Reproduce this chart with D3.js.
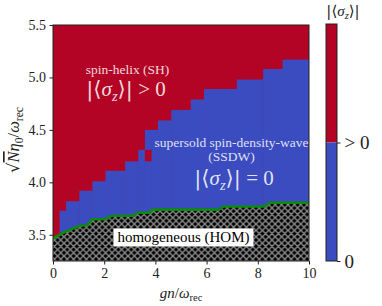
<!DOCTYPE html>
<html><head><meta charset="utf-8">
<script src="https://cdn.jsdelivr.net/npm/d3@7"></script>
</head><body style="margin:0">
<svg id="c" width="382" height="306"></svg>
<script>
// ---- data ----
const xTicks = [0, 2, 4, 6, 8, 10];
const yTicks = [3.5, 4.0, 4.5, 5.0, 5.5];
// column edges of the SH / SSDW staircase (gn/ω_rec)
const colEdges = [0, 0.26, 0.51, 1.03, 1.54, 2.05, 2.82, 3.33, 3.59, 3.85, 4.10, 4.62, 5.38, 5.90, 7.18, 8.21, 8.97, 10];
// upper edge of the SSDW (blue) region in each column
const ssdwTop = [3.25, 3.73, 3.82, 3.92, 4.01, 4.11, 4.20, 4.31, 4.50, 4.50, 4.59, 4.69, 4.79, 4.89, 4.98, 5.08, 5.17];
// isolated SH cell inside SSDW
const shIslandX = [3.59, 3.85];
const shIslandY = [4.20, 4.31];
// HOM boundary (green line)
const homX = [0, 0.51, 1.05, 1.33, 1.52, 2.03, 2.29, 3.14, 3.30, 3.79, 3.86, 6.46, 6.65, 8.28, 8.44, 10];
const homY = [3.467, 3.533, 3.586, 3.59, 3.648, 3.648, 3.681, 3.681, 3.71, 3.71, 3.74, 3.74, 3.77, 3.77, 3.805, 3.805];
const cbarTicks = [0, 0.5];
const cbarLabels = ["0", "> 0"];

const RED = "#b40426", BLUE = "#3b4cc0";
const SERIF = '"Liberation Serif"';
const MATHF = '"DejaVu Serif"';
const svg = d3.select("#c").style("display", "block").style("font-family", SERIF);
const x = d3.scaleLinear([0, 10], [53, 309]);
const y = d3.scaleLinear([3.25, 5.5], [261, 25]);

const defs = svg.append("defs");
defs.append("clipPath").attr("id", "clip").append("rect")
  .attr("x", x(0)).attr("y", y(5.5)).attr("width", x(10) - x(0)).attr("height", y(3.25) - y(5.5));
const P = 6.4;
const pat = defs.append("pattern").attr("id", "hatch").attr("patternUnits", "userSpaceOnUse")
  .attr("width", P).attr("height", P);
pat.append("rect").attr("width", P).attr("height", P).attr("fill", "#000");
pat.append("path").attr("d", `M0,0L${P},${P}M0,${P}L${P},0M-1,1L1,-1M${P-1},${P+1}L${P+1},${P-1}M-1,${P-1}L1,${P+1}M${P-1},-1L${P+1},1`)
  .attr("stroke", "#8a8a8a").attr("stroke-width", 1.4);

const g = svg.append("g").attr("clip-path", "url(#clip)");
g.append("rect").attr("x", x(0)).attr("y", y(5.5)).attr("width", x(10) - x(0)).attr("height", y(3.25) - y(5.5)).attr("fill", RED);
const cols = ssdwTop.map((t, i) => ({x0: colEdges[i], x1: colEdges[i + 1], top: t}));
g.selectAll("rect.ssdw").data(cols).join("rect").attr("class", "ssdw")
  .attr("x", d => x(d.x0)).attr("width", d => x(d.x1) - x(d.x0) + 0.5)
  .attr("y", d => y(d.top)).attr("height", d => y(3.25) - y(d.top)).attr("fill", BLUE);
g.append("rect").attr("x", x(shIslandX[0])).attr("width", x(shIslandX[1]) - x(shIslandX[0]))
  .attr("y", y(shIslandY[1])).attr("height", y(shIslandY[0]) - y(shIslandY[1])).attr("fill", RED);
const hom = homX.map((v, i) => [v, homY[i]]);
g.append("path").datum(hom)
  .attr("d", d3.area().x(d => x(d[0])).y0(y(3.25)).y1(d => y(d[1])))
  .attr("fill", "url(#hatch)");
g.append("path").datum(hom)
  .attr("d", d3.line().x(d => x(d[0])).y(d => y(d[1])))
  .attr("fill", "none").attr("stroke", "#0b8a0b").attr("stroke-width", 2.6);

function mtext(sel, parts, size) {
  sel.style("font-family", SERIF).attr("font-size", size);
  parts.forEach(p => {
    const t = sel.append("tspan").text(p.t).style("font-family", p.f || SERIF);
    if (p.it) t.attr("font-style", "italic");
    if (p.sub) t.attr("font-size", size * 0.7).attr("dy", size * 0.22);
    if (p.up) t.attr("dy", -size * 0.22);
    if (p.ov) t.attr("text-decoration", "overline");
  });
}
const sigma = (tail) => [{t: "|⟨", f: MATHF}, {t: "σ", it: true}, {t: "z", it: true, sub: true}, {t: "⟩|", up: true, f: MATHF}, {t: tail}];

const lab = svg.append("g").attr("fill", "#fff").attr("fill-opacity", 0.85).attr("text-anchor", "middle");
const t1 = (sx, sy, fs, s) => lab.append("text").attr("x", sx).attr("y", sy).attr("font-size", fs).style("font-family", SERIF).text(s);
t1(127.5, 74, 13.5, "spin-helix (SH)");
mtext(lab.append("text").attr("x", 126).attr("y", 96), sigma(" > 0"), 21);
t1(231.5, 147, 13.5, "supersold spin-density-wave");
t1(231.5, 161, 13.5, "(SSDW)");
mtext(lab.append("text").attr("x", 234).attr("y", 185), sigma(" = 0"), 21);

svg.append("rect").attr("x", 113.5).attr("y", 228.5).attr("width", 140).attr("height", 18).attr("fill", "#fff");
svg.append("text").attr("x", 183.5).attr("y", 242).attr("text-anchor", "middle").attr("font-size", 15)
  .style("font-family", SERIF).attr("fill", "#000").text("homogeneous (HOM)");

const ax = svg.append("g").attr("transform", `translate(0,${y(3.25)})`)
  .call(d3.axisBottom(x).tickValues(xTicks).tickSize(3.5).tickPadding(3.5).tickFormat(d3.format("d")));
const ay = svg.append("g").attr("transform", `translate(${x(0)},0)`)
  .call(d3.axisLeft(y).tickValues(yTicks).tickSize(3.5).tickPadding(3.5).tickFormat(d3.format(".1f")));
[ax, ay].forEach(a => {
  a.attr("font-family", null).attr("font-size", null);
  a.select(".domain").remove();
  a.selectAll("text").attr("font-size", 14).style("font-family", SERIF).attr("fill", "#222");
  a.selectAll("line").attr("stroke", "#222");
});
svg.append("rect").attr("x", x(0)).attr("y", y(5.5)).attr("width", x(10) - x(0)).attr("height", y(3.25) - y(5.5))
  .attr("fill", "none").attr("stroke", "#222").attr("stroke-width", 1);

const xl = svg.append("text").attr("x", 181).attr("y", 298).attr("text-anchor", "middle").attr("fill", "#222");
mtext(xl, [{t: "gn", it: true}, {t: "/"}, {t: "ω", it: true}, {t: "rec", sub: true}], 15);
const yl = svg.append("text").attr("transform", "translate(19,140) rotate(-90)").attr("text-anchor", "middle").attr("fill", "#222");
mtext(yl, [{t: "√", f: MATHF}, {t: "N", it: true, ov: true}, {t: "η", it: true}, {t: "0", sub: true}, {t: "/", up: true}, {t: "ω", it: true}, {t: "rec", sub: true}], 16.5);

const cb = d3.scaleLinear([0, 1], [261, 24]);
svg.append("rect").attr("x", 326).attr("width", 11).attr("y", cb(1)).attr("height", cb(0.5) - cb(1)).attr("fill", RED);
svg.append("rect").attr("x", 326).attr("width", 11).attr("y", cb(0.5)).attr("height", cb(0) - cb(0.5)).attr("fill", BLUE);
svg.append("rect").attr("x", 326).attr("width", 11).attr("y", cb(1)).attr("height", cb(0) - cb(1))
  .attr("fill", "none").attr("stroke", "#222").attr("stroke-width", 1);
const ac = svg.append("g").attr("transform", "translate(337,0)")
  .call(d3.axisRight(cb).tickValues(cbarTicks).tickSize(3.5).tickPadding(4).tickFormat((d, i) => cbarLabels[i]));
ac.attr("font-family", null).attr("font-size", null);
ac.select(".domain").remove();
ac.selectAll("text").attr("font-size", 19).style("font-family", SERIF).attr("fill", "#222");
ac.selectAll("line").attr("stroke", "#222");
const ct = svg.append("text").attr("x", 343).attr("y", 16).attr("text-anchor", "middle").attr("fill", "#222");
mtext(ct, sigma(""), 15);
</script>
</body></html>
